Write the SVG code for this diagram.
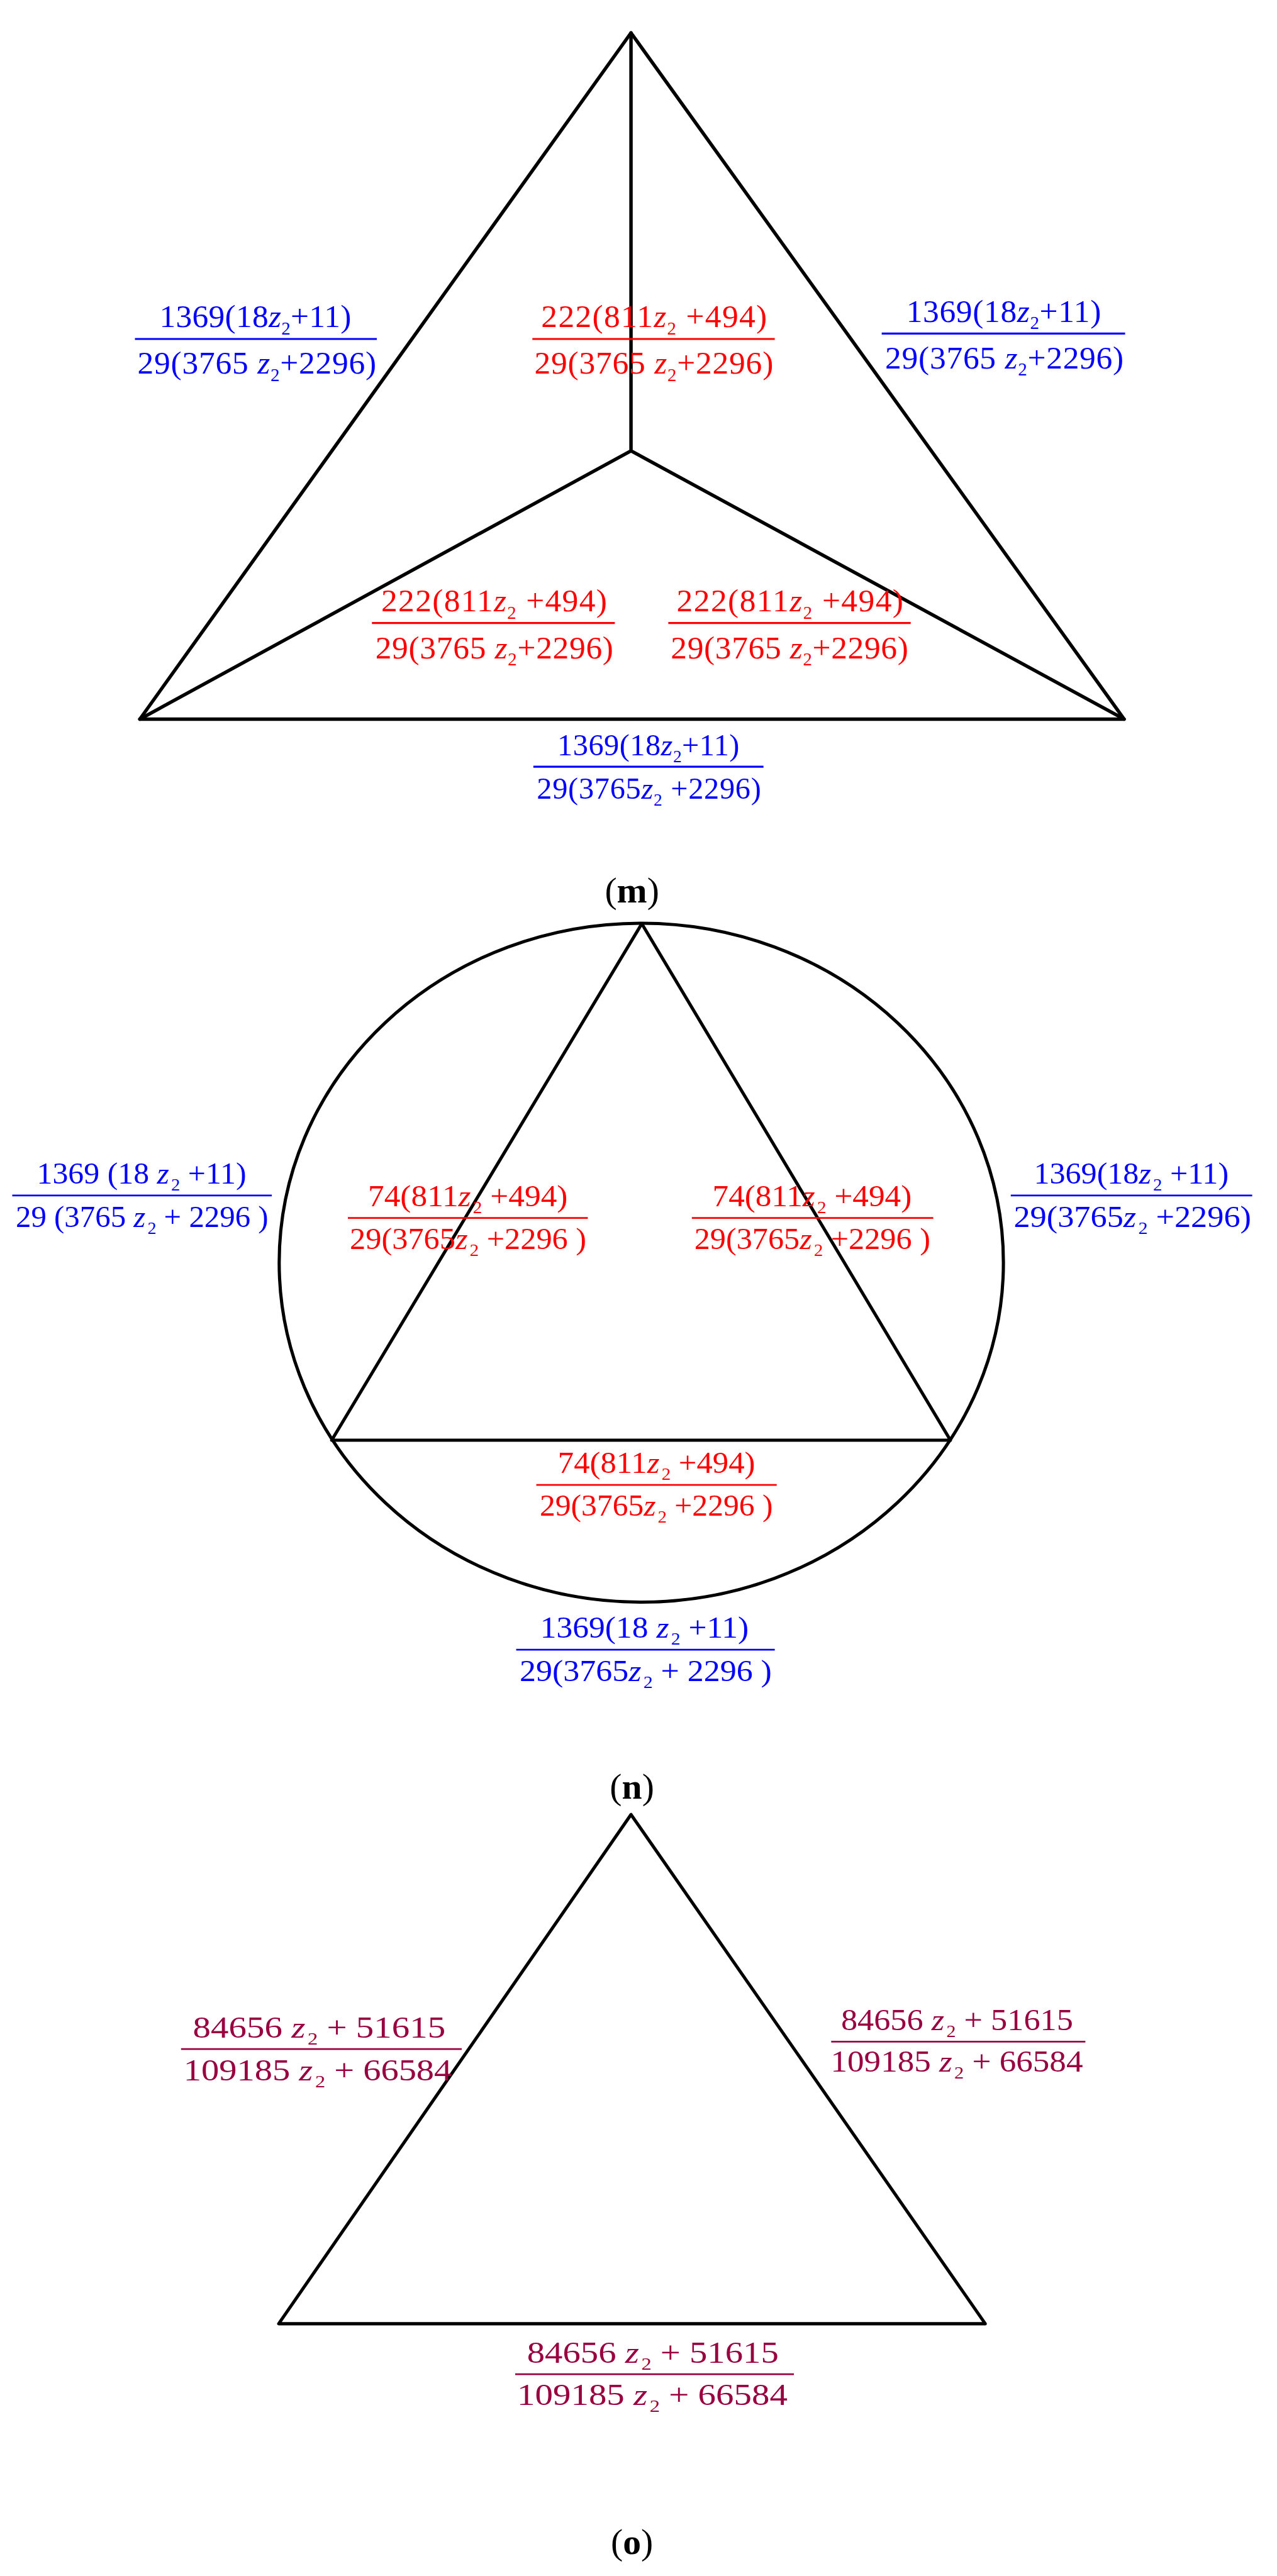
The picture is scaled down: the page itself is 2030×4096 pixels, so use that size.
<svg xmlns="http://www.w3.org/2000/svg" width="2030" height="4096" viewBox="0 0 2030 4096">
<style>
.t{font-family:"Liberation Serif","Times New Roman",serif}
.m{font-size:66px}
.s{font-size:63px}
.ms{font-size:37px}
.ss{font-size:36px}
.i{font-style:italic}
.b{fill:#0000ff}
.r{fill:#ff0000}
.p{fill:#990040}
.bl{stroke:#0000ff}
.rl{stroke:#ff0000}
.pl{stroke:#990040}
.bar{stroke-width:4;fill:none}
.thin{stroke-width:3.5}
.edge{stroke:#000;stroke-width:6.5;fill:none;stroke-linejoin:round;stroke-linecap:round}
.em{stroke-width:7}
.ttl{font-size:74px;fill:#000}
</style>
<rect width="2030" height="4096" fill="#fff"/>
<g transform="scale(0.78)">
<!-- Panel m -->
<g id="panel-m">
<g id="edges-m">
<path class="edge em" d="M1286 67 L285 1466 L2291 1466 Z"/>
<path class="edge em" d="M1286 67 L1286 919 M1286 919 L285 1466 M1286 919 L2291 1466"/>
</g>
<g id="m-left" class="t m b">
<text x="325" y="667" textLength="391">1369(18<tspan class="i">z</tspan><tspan class="ms" dy="15">2</tspan><tspan dy="-15">+11)</tspan></text>
<line class="bar bl" x1="275" y1="691" x2="768" y2="691"/>
<text x="280" y="762" textLength="487">29(3765 <tspan class="i">z</tspan><tspan class="ms" dy="15">2</tspan><tspan dy="-15">+2296)</tspan></text>
</g>
<g id="m-top" class="t m r">
<text x="1103" y="667" textLength="460">222(811<tspan class="i">z</tspan><tspan class="ms" dy="15">2</tspan><tspan dy="-15"> +494)</tspan></text>
<line class="bar rl" x1="1085" y1="691" x2="1579" y2="691"/>
<text x="1089" y="762" textLength="487">29(3765 <tspan class="i">z</tspan><tspan class="ms" dy="15">2</tspan><tspan dy="-15">+2296)</tspan></text>
</g>
<g id="m-right" class="t m b">
<text x="1847" y="656" textLength="397">1369(18<tspan class="i">z</tspan><tspan class="ms" dy="15">2</tspan><tspan dy="-15">+11)</tspan></text>
<line class="bar bl" x1="1797" y1="680" x2="2293" y2="680"/>
<text x="1804" y="751" textLength="486">29(3765 <tspan class="i">z</tspan><tspan class="ms" dy="15">2</tspan><tspan dy="-15">+2296)</tspan></text>
</g>
<g id="m-bottom-left" class="t m r">
<text x="777" y="1246" textLength="460">222(811<tspan class="i">z</tspan><tspan class="ms" dy="15">2</tspan><tspan dy="-15"> +494)</tspan></text>
<line class="bar rl" x1="758" y1="1270" x2="1253" y2="1270"/>
<text x="765" y="1342" textLength="485">29(3765 <tspan class="i">z</tspan><tspan class="ms" dy="15">2</tspan><tspan dy="-15">+2296)</tspan></text>
</g>
<g id="m-bottom-right" class="t m r">
<text x="1379" y="1246" textLength="462">222(811<tspan class="i">z</tspan><tspan class="ms" dy="15">2</tspan><tspan dy="-15"> +494)</tspan></text>
<line class="bar rl" x1="1362" y1="1270" x2="1856" y2="1270"/>
<text x="1367" y="1342" textLength="484">29(3765 <tspan class="i">z</tspan><tspan class="ms" dy="15">2</tspan><tspan dy="-15">+2296)</tspan></text>
</g>
<g id="m-bottom" class="t b" style="font-size:62px">
<text x="1136" y="1540" textLength="371">1369(18<tspan class="i">z</tspan><tspan style="font-size:35px" dy="14">2</tspan><tspan dy="-14">+11)</tspan></text>
<line class="bar bl" x1="1087" y1="1563" x2="1556" y2="1563"/>
<text x="1094" y="1628" textLength="457">29(3765<tspan class="i">z</tspan><tspan style="font-size:35px" dy="14">2</tspan><tspan dy="-14"> +2296)</tspan></text>
</g>
<text id="title-m" class="t ttl" x="1288" y="1840" text-anchor="middle">(<tspan font-weight="bold">m</tspan>)</text>
</g>
<!-- Panel n -->
<g id="panel-n">
<g id="edges-n">
<ellipse class="edge" cx="1307" cy="2574" rx="738" ry="692"/>
<path class="edge" d="M1308 1883 L676 2936 L1937 2936 Z"/>
</g>
<g id="n-left" class="t s b">
<text x="75" y="2413" textLength="427" lengthAdjust="spacingAndGlyphs">1369 (18 <tspan class="i">z</tspan><tspan class="ss" dx="4" dy="14">2</tspan><tspan dy="-14"> +11)</tspan></text>
<line class="bar bl thin" x1="25" y1="2437" x2="554" y2="2437"/>
<text x="32" y="2501" textLength="515" lengthAdjust="spacingAndGlyphs">29 (3765 <tspan class="i">z</tspan><tspan class="ss" dx="4" dy="14">2</tspan><tspan dy="-14"> + 2296 )</tspan></text>
</g>
<g id="n-inner-left" class="t s r">
<text x="750" y="2459" textLength="407" lengthAdjust="spacingAndGlyphs">74(811<tspan class="i">z</tspan><tspan class="ss" dx="4" dy="14">2</tspan><tspan dy="-14"> +494)</tspan></text>
<line class="bar rl thin" x1="709" y1="2483" x2="1198" y2="2483"/>
<text x="713" y="2546" textLength="482" lengthAdjust="spacingAndGlyphs">29(3765<tspan class="i">z</tspan><tspan class="ss" dx="4" dy="14">2</tspan><tspan dy="-14"> +2296 )</tspan></text>
</g>
<g id="n-inner-right" class="t s r">
<text x="1452" y="2459" textLength="406" lengthAdjust="spacingAndGlyphs">74(811<tspan class="i">z</tspan><tspan class="ss" dx="4" dy="14">2</tspan><tspan dy="-14"> +494)</tspan></text>
<line class="bar rl thin" x1="1410" y1="2483" x2="1902" y2="2483"/>
<text x="1415" y="2546" textLength="481" lengthAdjust="spacingAndGlyphs">29(3765<tspan class="i">z</tspan><tspan class="ss" dx="4" dy="14">2</tspan><tspan dy="-14"> +2296 )</tspan></text>
</g>
<g id="n-right" class="t s b">
<text x="2107" y="2413" textLength="397" lengthAdjust="spacingAndGlyphs">1369(18<tspan class="i">z</tspan><tspan class="ss" dx="4" dy="14">2</tspan><tspan dy="-14"> +11)</tspan></text>
<line class="bar bl thin" x1="2060" y1="2437" x2="2552" y2="2437"/>
<text x="2066" y="2501" textLength="484" lengthAdjust="spacingAndGlyphs">29(3765<tspan class="i">z</tspan><tspan class="ss" dx="4" dy="14">2</tspan><tspan dy="-14"> +2296)</tspan></text>
</g>
<g id="n-bottom-inner" class="t s r">
<text x="1137" y="3003" textLength="402" lengthAdjust="spacingAndGlyphs">74(811<tspan class="i">z</tspan><tspan class="ss" dx="4" dy="14">2</tspan><tspan dy="-14"> +494)</tspan></text>
<line class="bar rl thin" x1="1093" y1="3027" x2="1583" y2="3027"/>
<text x="1100" y="3090" textLength="475" lengthAdjust="spacingAndGlyphs">29(3765<tspan class="i">z</tspan><tspan class="ss" dx="4" dy="14">2</tspan><tspan dy="-14"> +2296 )</tspan></text>
</g>
<g id="n-bottom" class="t s b">
<text x="1101" y="3339" textLength="425" lengthAdjust="spacingAndGlyphs">1369(18 <tspan class="i">z</tspan><tspan class="ss" dx="4" dy="14">2</tspan><tspan dy="-14"> +11)</tspan></text>
<line class="bar bl thin" x1="1052" y1="3363" x2="1579" y2="3363"/>
<text x="1059" y="3427" textLength="514" lengthAdjust="spacingAndGlyphs">29(3765<tspan class="i">z</tspan><tspan class="ss" dx="4" dy="14">2</tspan><tspan dy="-14"> + 2296 )</tspan></text>
</g>
<text id="title-n" class="t ttl" x="1288" y="3667" text-anchor="middle">(<tspan font-weight="bold">n</tspan>)</text>
</g>
<!-- Panel o -->
<g id="panel-o">
<g id="edges-o">
<path class="edge" d="M1286 3699 L568 4737 L2008 4737 Z"/>
</g>
<g id="o-left" class="t s p">
<text x="393" y="4154" textLength="515" lengthAdjust="spacingAndGlyphs">84656 <tspan class="i">z</tspan><tspan class="ss" dx="4" dy="14">2</tspan><tspan dy="-14"> + 51615</tspan></text>
<line class="bar pl thin" x1="369" y1="4177" x2="941" y2="4177"/>
<text x="374" y="4241" textLength="547" lengthAdjust="spacingAndGlyphs">109185 <tspan class="i">z</tspan><tspan class="ss" dx="4" dy="14">2</tspan><tspan dy="-14"> + 66584</tspan></text>
</g>
<g id="o-right" class="t s p">
<text x="1714" y="4138" textLength="473" lengthAdjust="spacingAndGlyphs">84656 <tspan class="i">z</tspan><tspan class="ss" dx="4" dy="14">2</tspan><tspan dy="-14"> + 51615</tspan></text>
<line class="bar pl thin" x1="1694" y1="4162" x2="2212" y2="4162"/>
<text x="1693" y="4223" textLength="514" lengthAdjust="spacingAndGlyphs">109185 <tspan class="i">z</tspan><tspan class="ss" dx="4" dy="14">2</tspan><tspan dy="-14"> + 66584</tspan></text>
</g>
<g id="o-bottom" class="t s p">
<text x="1074" y="4817" textLength="513" lengthAdjust="spacingAndGlyphs">84656 <tspan class="i">z</tspan><tspan class="ss" dx="4" dy="14">2</tspan><tspan dy="-14"> + 51615</tspan></text>
<line class="bar pl thin" x1="1050" y1="4840" x2="1618" y2="4840"/>
<text x="1054" y="4903" textLength="551" lengthAdjust="spacingAndGlyphs">109185 <tspan class="i">z</tspan><tspan class="ss" dx="4" dy="14">2</tspan><tspan dy="-14"> + 66584</tspan></text>
</g>
<text id="title-o" class="t ttl" x="1288" y="5206" text-anchor="middle">(<tspan font-weight="bold">o</tspan>)</text>
</g>
</g>
</svg>
